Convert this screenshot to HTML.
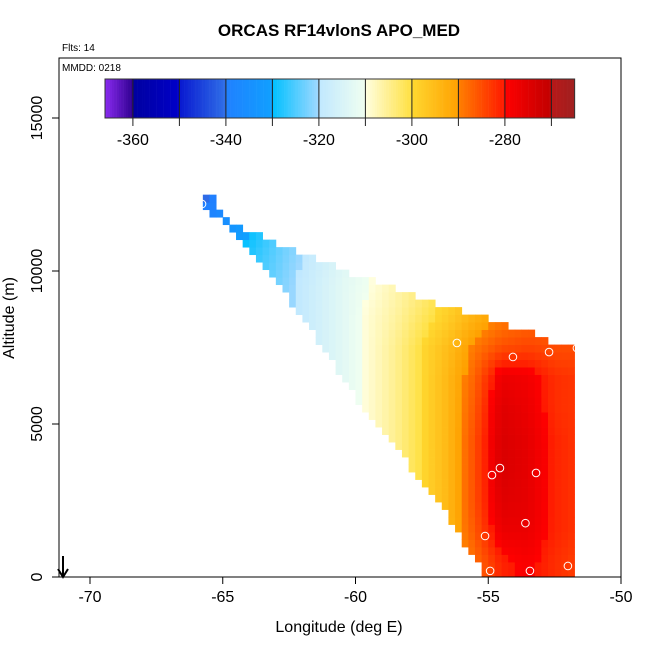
<!DOCTYPE html>
<html><head><meta charset="utf-8"><style>
body{margin:0;background:#fff;}
svg{display:block;font-family:"Liberation Sans",Arial,sans-serif;}
</style></head><body>
<svg id="chart" width="650" height="650" viewBox="0 0 650 650">
<text x="339" y="36" text-anchor="middle" font-size="17" font-weight="bold">ORCAS RF14vlonS APO_MED</text>
<text x="62" y="51" font-size="10">Flts: 14</text>
<g id="cells"></g>
<g id="pts"></g>
<rect x="59" y="58" width="562" height="519" fill="none" stroke="#000" stroke-width="1"/>
<text x="62" y="71" font-size="10">MMDD: 0218</text>
<g id="cbar"></g>
<g id="xaxis"></g>
<g id="yaxis"></g>
<text x="339" y="632" text-anchor="middle" font-size="16">Longitude (deg E)</text>
<text transform="translate(14,318) rotate(-90)" text-anchor="middle" font-size="16">Altitude (m)</text>
<g><line x1="63" y1="556" x2="63" y2="576" stroke="#000" stroke-width="2"/><path d="M58,569 L63,577 L68,569" fill="none" stroke="#000" stroke-width="2"/></g>
</svg>
<script>
const xTicks=[-70,-65,-60,-55,-50];
const yTicks=[0,5000,10000,15000];
const cbTicks=[-360,-340,-320,-300,-280];
const cbBounds=[-360,-350,-340,-330,-320,-310,-300,-290,-280,-270];
const gridLon=[-65.5,-64.5,-63.5,-62.5,-61.5,-60.5,-59.5,-58.5,-57.5,-56.5,-55.5,-54.5,-53.5,-52.5,-51.5];
const gridAlt=[500,1500,2500,3500,4500,5500,6500,7500,8500,9500,10500,11500,12500];
const gridVal=[
[-334,-329,-325,-321,-317,-313,-309,-305,-300,-295,-288,-281,-279,-282,-284],
[-334,-329,-325,-321,-317,-313,-309,-305,-300,-294,-286,-277,-277,-281,-283],
[-334,-329,-325,-321,-317,-313,-309,-305,-300,-294,-285,-275,-276,-281,-283],
[-334,-329,-325,-321,-317,-313,-309,-305,-300,-294,-285,-274,-276,-281,-283],
[-334,-329,-325,-321,-317,-313,-309,-305,-300,-294,-285,-274,-276,-281,-283],
[-334,-329,-325,-321,-317,-313,-309,-305,-300,-294,-286,-275,-277,-282,-283],
[-334,-329,-325,-321,-317,-313,-309,-305,-300,-294,-287,-277,-278,-282,-283],
[-334,-329,-325,-321,-317,-313,-309,-305,-300,-295,-289,-285,-284,-285,-285],
[-334,-329,-325,-321,-317,-313,-309,-306,-302,-298,-293,-290,-288,-288,-288],
[-334,-329,-325,-321,-317,-313,-310,-307,-304,-300,-296,-292,-290,-290,-290],
[-335,-330,-326,-322,-318,-314,-311,-308,-305,-300,-296,-292,-290,-290,-290],
[-338,-333,-328,-323,-319,-315,-312,-308,-305,-300,-296,-292,-290,-290,-290],
[-341,-336,-331,-326,-321,-317,-314,-310,-306,-302,-298,-294,-290,-290,-290]];
const leftAlt=[0,2000,4000,6000,8000,10000,11000,12200];
const leftLon=[-55.05,-56.55,-58.3,-60.1,-61.6,-63.3,-64.3,-65.8];
const rightAlt=[0,7200,7250,7450,7500,8000,8500,9000,10000,11000,11500,12200];
const rightLon=[-51.8,-51.8,-51.5,-51.5,-52.3,-53.4,-55.3,-57.1,-60.4,-63.2,-64.6,-65.3];
const ptLon=[-65.78,-56.18,-54.07,-52.71,-51.66,-54.56,-54.86,-53.2,-53.6,-55.12,-54.93,-53.43,-52.0];
const ptAlt=[12190,7650,7190,7350,7480,3560,3330,3400,1760,1340,200,200,360];
const NS='http://www.w3.org/2000/svg';
const X=v=>90+(v+70)*26.55, Y=a=>577-a*0.0306;
const CX=v=>105+(v+366)*4.65;
const stops=[[-366,'#8a2bf0'],[-360,'#300090'],[-360,'#0000a0'],[-350,'#0000c8'],[-350,'#0818d0'],[-340,'#3070e8'],[-340,'#2080ff'],[-330,'#10a0ff'],[-330,'#00c0ff'],[-320,'#a0d8ff'],[-320,'#c0e8ff'],[-310,'#f0fff0'],[-310,'#ffffe0'],[-300,'#ffe040'],[-300,'#ffd830'],[-290,'#ffa000'],[-290,'#ff8000'],[-280,'#ff1800'],[-280,'#ff0000'],[-270,'#c00000'],[-270,'#b81818'],[-265,'#a02020']];
function hx(c){return [1,3,5].map(i=>parseInt(c.substr(i,2),16));}
function col(v){
  if(v<=stops[0][0])return stops[0][1];
  for(let i=0;i<stops.length-1;i++){const a=stops[i],b=stops[i+1];
    if(v>=a[0]&&v<=b[0]&&b[0]>a[0]){const t=(v-a[0])/(b[0]-a[0]);const p=hx(a[1]),q=hx(b[1]);
      return 'rgb('+p.map((x,k)=>Math.round(x+(q[k]-x)*t)).join(',')+')';}}
  return stops[stops.length-1][1];}
function lerp(xs,ys,x){if(x<=xs[0])return ys[0];for(let i=0;i<xs.length-1;i++){if(x<=xs[i+1]){const t=(x-xs[i])/(xs[i+1]-xs[i]||1);return ys[i]+(ys[i+1]-ys[i])*t;}}return ys[ys.length-1];}
function val(lon,alt){
  let fi=(lon-gridLon[0]),fj=(alt-gridAlt[0])/1000;
  fi=Math.max(0,Math.min(gridLon.length-1.001,fi));fj=Math.max(0,Math.min(gridAlt.length-1.001,fj));
  const i=Math.floor(fi),j=Math.floor(fj),ti=fi-i,tj=fj-j;
  const a=gridVal[j][i],b=gridVal[j][i+1],c=gridVal[j+1][i],d=gridVal[j+1][i+1];
  return (a*(1-ti)+b*ti)*(1-tj)+(c*(1-ti)+d*ti)*tj;}
const cells=document.getElementById('cells');
const dl=0.25,da=245;
for(let alt=0;alt<12300;alt+=da){
  const ac=alt+da/2;const L=lerp(leftAlt,leftLon,ac),R=lerp(rightAlt,rightLon,ac);
  for(let lon=-66;lon<-51.4;lon+=dl){const lc=lon+dl/2;if(lc<L||lc>R)continue;
    const r=document.createElementNS(NS,'rect');
    
    
    r.setAttribute('x',X(lon).toFixed(2));r.setAttribute('y',Y(alt+da).toFixed(2));
    r.setAttribute('width',(dl*26.55+0.4).toFixed(2));r.setAttribute('height',(da*0.0306+0.4).toFixed(2));
    r.setAttribute('fill',col(val(lc,ac)));cells.appendChild(r);}}
const pts=document.getElementById('pts');
ptLon.forEach((lo,i)=>{const c=document.createElementNS(NS,'circle');
  
  
  c.setAttribute('cx',X(lo));c.setAttribute('cy',Y(ptAlt[i]));c.setAttribute('r',3.8);
  c.setAttribute('fill','none');c.setAttribute('stroke','#fff');c.setAttribute('stroke-width','1');pts.appendChild(c);});
const cb=document.getElementById('cbar');
for(let v=-366;v<-265;v+=0.5){const r=document.createElementNS(NS,'rect');
  
  
  r.setAttribute('x',CX(v));r.setAttribute('y',79);r.setAttribute('width',2.6);r.setAttribute('height',39);r.setAttribute('fill',col(v+0.25));cb.appendChild(r);}
const ob=document.createElementNS(NS,'rect');


ob.setAttribute('x',105);ob.setAttribute('y',79);ob.setAttribute('width',CX(-265)-105);ob.setAttribute('height',39);ob.setAttribute('fill','none');ob.setAttribute('stroke','#333');cb.appendChild(ob);
cbBounds.forEach(v=>{const l=document.createElementNS(NS,'line');
  
  
  l.setAttribute('x1',CX(v));l.setAttribute('x2',CX(v));l.setAttribute('y1',79);l.setAttribute('y2',126);l.setAttribute('stroke','#222');cb.appendChild(l);});
cbTicks.forEach(v=>{const t=document.createElementNS(NS,'text');
  
  
  t.setAttribute('x',CX(v));t.setAttribute('y',145);t.setAttribute('text-anchor','middle');t.setAttribute('font-size','16');t.textContent=v;cb.appendChild(t);});
const xa=document.getElementById('xaxis');
xTicks.forEach(v=>{const l=document.createElementNS(NS,'line');
  
  
  l.setAttribute('x1',X(v));l.setAttribute('x2',X(v));l.setAttribute('y1',577);l.setAttribute('y2',584);l.setAttribute('stroke','#000');xa.appendChild(l);
  const t=document.createElementNS(NS,'text');
  
  
  t.setAttribute('x',X(v));t.setAttribute('y',602);t.setAttribute('text-anchor','middle');t.setAttribute('font-size','16');t.textContent=v;xa.appendChild(t);});
const ya=document.getElementById('yaxis');
yTicks.forEach(v=>{const l=document.createElementNS(NS,'line');
  
  
  l.setAttribute('x1',52);l.setAttribute('x2',59);l.setAttribute('y1',Y(v));l.setAttribute('y2',Y(v));l.setAttribute('stroke','#000');ya.appendChild(l);
  const t=document.createElementNS(NS,'text');
  
  
  t.setAttribute('transform','translate(42,'+Y(v)+') rotate(-90)');t.setAttribute('text-anchor','middle');t.setAttribute('font-size','16');t.textContent=v;ya.appendChild(t);});
</script>
</body></html>
